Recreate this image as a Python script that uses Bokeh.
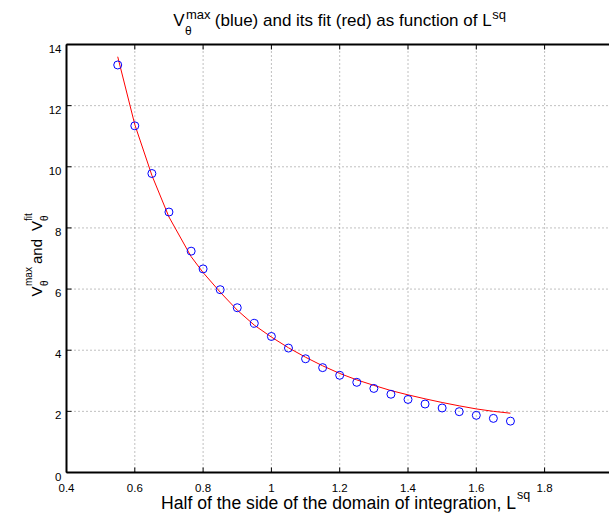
import numpy as np
from bokeh.plotting import figure
from bokeh.models import Range1d
from bokeh.core.properties import value
from bokeh.embed import file_html
from bokeh.resources import INLINE

# ---- data ----
pts_x = [0.55, 0.60, 0.65, 0.70, 0.765, 0.80, 0.85, 0.90, 0.95, 1.00, 1.05, 1.10,
         1.15, 1.20, 1.25, 1.30, 1.35, 1.40, 1.45, 1.50, 1.55, 1.60, 1.65, 1.70]
pts_y = [13.33, 11.34, 9.78, 8.52, 7.24, 6.66, 5.98, 5.39, 4.88, 4.45, 4.07, 3.72,
         3.43, 3.18, 2.95, 2.75, 2.56, 2.39, 2.24, 2.11, 1.99, 1.87, 1.77, 1.68]
fit_x = [0.55, 0.60, 0.65, 0.70, 0.765, 0.80, 0.85, 0.90, 0.95, 1.00, 1.05, 1.10,
         1.15, 1.20, 1.25, 1.30, 1.35, 1.40, 1.45, 1.50, 1.55, 1.60, 1.65, 1.70]
fit_y = [13.60, 11.38, 9.72, 8.36, 7.06, 6.54, 5.90, 5.31, 4.82, 4.43, 4.08, 3.77,
         3.49, 3.24, 3.03, 2.85, 2.68, 2.54, 2.41, 2.29, 2.18, 2.08, 2.00, 1.94]
x_ticks = [0.4, 0.6, 0.8, 1.0, 1.2, 1.4, 1.6, 1.8, 2.0]
x_tick_labels = ["0.4", "0.6", "0.8", "1", "1.2", "1.4", "1.6", "1.8", "2"]
y_ticks = [0, 2, 4, 6, 8, 10, 12, 14]
y_tick_labels = ["0", "2", "4", "6", "8", "10", "12", "14"]
XMIN, XMAX = 0.4, 2.0
YMIN, YMAX = 0, 14

# ---- layout (pixels of the 609x517 page) ----
W, H = 609, 517
FL, FT, FB = 66, 44, 472          # axes box: left, top, bottom (right lies just off-page)
PXX = 341.5                       # pixels per x unit
PXY = (FB - FT) / (YMAX - YMIN)   # pixels per y unit
FONT = "Liberation Sans"


def dx(px):
    return XMIN + (px - FL) / PXX


def dy(py):
    return YMAX - (py - FT) / PXY


p = figure(width=W, height=H,
           x_range=Range1d(dx(0), dx(W)), y_range=Range1d(dy(H), dy(0)),
           output_backend="svg", toolbar_location=None,
           x_axis_location=None, y_axis_location=None, min_border=0)
p.outline_line_color = None
p.xgrid.visible = False
p.ygrid.visible = False
p.background_fill_color = "white"
p.border_fill_color = "white"

# ---- grid (dotted), from the tick arrays ----
gx = [t for t in x_ticks if XMIN < t < XMAX + 1e-9]
gy = [t for t in y_ticks if YMIN < t < YMAX]
p.segment(x0=gx, y0=[YMIN] * len(gx), x1=gx, y1=[YMAX] * len(gx),
          line_color="#808080", line_dash="1 3", line_width=1)
p.segment(x0=[XMIN] * len(gy), y0=gy, x1=[XMAX] * len(gy), y1=gy,
          line_color="#808080", line_dash="1 3", line_width=1)

# ---- data ----
p.line(fit_x, fit_y, line_color="#ff0000", line_width=1)
p.scatter(pts_x, pts_y, marker="circle", size=8, fill_color=None,
          line_color="#0000ff", line_width=1)

# ---- axes box ----
p.segment(x0=[XMIN, XMIN, XMIN, XMAX], y0=[YMIN, YMAX, YMIN, YMIN],
          x1=[XMAX, XMAX, XMIN, XMAX], y1=[YMIN, YMAX, YMAX, YMAX],
          line_color="black", line_width=2)

# ---- inward ticks ----
TL = 5
n = len(x_ticks)
p.segment(x0=x_ticks, y0=[YMIN] * n, x1=x_ticks, y1=[YMIN + TL / PXY] * n,
          line_color="black", line_width=1)
p.segment(x0=x_ticks, y0=[YMAX] * n, x1=x_ticks, y1=[YMAX - TL / PXY] * n,
          line_color="black", line_width=1)
m = len(y_ticks)
p.segment(x0=[XMIN] * m, y0=y_ticks, x1=[XMIN + TL / PXX] * m, y1=y_ticks,
          line_color="black", line_width=1)

# ---- tick labels ----
p.text(x=x_ticks, y=[YMIN] * n, text=x_tick_labels, text_font=value(FONT),
       text_font_size=value("11.5px"), text_color="black",
       text_align="center", text_baseline="alphabetic", y_offset=15)
p.text(x=[XMIN] * m, y=y_ticks, text=y_tick_labels, text_font=value(FONT),
       text_font_size=value("11.5px"), text_color="black",
       text_align="right", text_baseline="alphabetic", x_offset=-5, y_offset=4)


def txt(px, py, s, size, angle=0.0):
    p.text(x=[dx(px)], y=[dy(py)], text=[s], text_font=value(FONT),
           text_font_size=value(f"{size}px"), text_color="black",
           text_align="left", text_baseline="alphabetic", angle=angle)


# title: V_theta^max (blue) and its fit (red) as function of L^sq
txt(172.7, 20, "V", 17)
txt(185.5, 13.5, "max", 13)
txt(184.5, 30.5, "\u03b8", 12)
txt(214.3, 20, "(blue) and its fit (red) as function of L", 17)
txt(491.7, 14, "sq", 13)

# x label
txt(160.5, 502, "Half of the side of the domain of integration, L", 17.6)
txt(516.5, 494, "sq", 12.5)

# y label (rotated, reading upward)
A = np.pi / 2
txt(36, 296, "V", 15, A)
txt(28, 285.5, "max", 10, A)
txt(44, 285.5, "\u03b8", 10, A)
txt(36, 263.5, " and ", 15, A)
txt(36, 230.5, "V", 15, A)
txt(28, 220.5, "fit", 10, A)
txt(44, 220.5, "\u03b8", 10, A)

open("out.html", "w").write(file_html(p, INLINE))
